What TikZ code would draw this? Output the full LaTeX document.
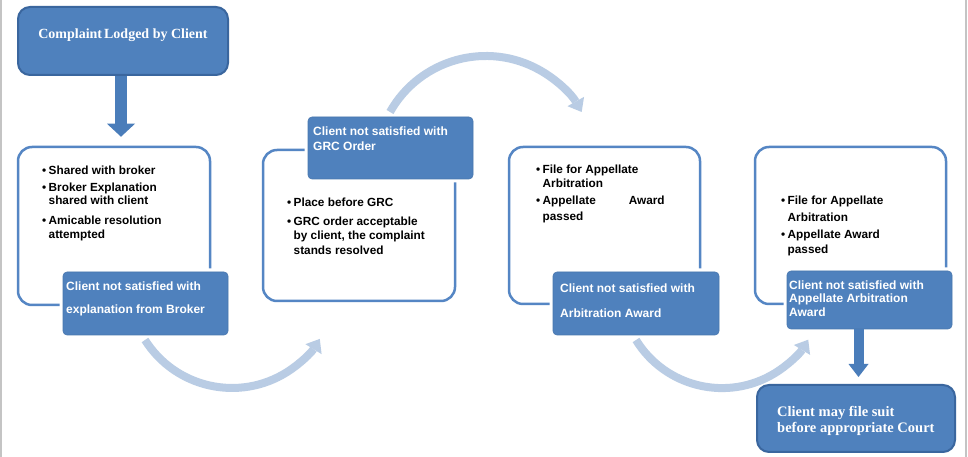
\documentclass[tikz,border=0pt]{standalone}
\usepackage{fontspec}
\setmainfont{Liberation Serif}
\setsansfont{Liberation Sans}
\usetikzlibrary{arrows.meta}
\definecolor{fillblue}{HTML}{4F81BD}
\definecolor{darkblue}{HTML}{3A669E}
\definecolor{wblue}{HTML}{5586C4}
\definecolor{arcblue}{HTML}{B9CCE4}
\definecolor{arrblue}{HTML}{4A7DBA}
\definecolor{edgegray}{HTML}{C4C4C4}
\newcommand\mybul{\makebox[6.5pt][l]{\textbullet}}
\newcommand\myind{\hspace*{6.5pt}}
\begin{document}
\begin{tikzpicture}[x=1pt,y=1pt,
  wbox/.style={draw=wblue, line width=2.5pt, rounded corners=14pt, fill=white, inner sep=0pt},
  bbox/.style={fill=fillblue, draw=fillblue!92!black, line width=0.6pt, rounded corners=4pt, inner sep=0pt, preaction={draw=white, line width=7pt}},
  hbox/.style={fill=fillblue, draw=darkblue, line width=2pt, rounded corners=12pt, inner sep=0pt},
  btxt/.style={font=\sffamily\bfseries\fontsize{12}{14}\selectfont, text=white, align=left, inner sep=0pt, anchor=north west},
  ltxt/.style={font=\sffamily\bfseries\fontsize{11.8}{13.5}\selectfont, text=black, align=left, inner sep=0pt, anchor=north west},
  htxt/.style={font=\rmfamily\bfseries\fontsize{14}{16}\selectfont, text=white, inner sep=0pt},
  arcarr/.style={draw=arcblue, line width=8pt, -{Triangle[width=19pt,length=12pt,line width=0pt]}},
  downarr/.style={draw=arrblue, -{Triangle[width=#1,length=13pt,line width=0pt]}}]
\useasboundingbox (0,0) rectangle (968,457);
\fill[white] (0,0) rectangle (968,457);
\draw[edgegray, line width=2pt] (1,0) -- (1,457);
\draw[edgegray, line width=2pt] (966,0) -- (966,457);

% top box
\node[hbox, minimum width=210pt, minimum height=68pt] (top) at (123,457-41) {};
\node[htxt, anchor=base] (toptxt) at (123,457-39) {Complaint\hspace{2pt}Lodged by Client};

% white boxes
\node[wbox, minimum width=192pt, minimum height=158pt] (box1) at (114,457-226) {};
\node[wbox, minimum width=192pt, minimum height=151pt] (box2) at (359,457-225.5) {};
\node[wbox, minimum width=191pt, minimum height=157pt] (box3) at (604.5,457-225.5) {};
\node[wbox, minimum width=191pt, minimum height=157pt] (box4) at (850.5,457-225.5) {};

% blue boxes
\node[bbox, minimum width=165pt, minimum height=63pt] (cl1) at (145.5,457-303.5) {};
\node[bbox, minimum width=165pt, minimum height=62pt] (cl2) at (390.5,457-148) {};
\node[bbox, minimum width=166pt, minimum height=63pt] (cl3) at (636,457-303.5) {};
\node[bbox, minimum width=165pt, minimum height=58pt] (cl4) at (869.5,457-300) {};

% final box
\node[hbox, minimum width=198pt, minimum height=67pt] (fin) at (856,457-418.5) {};
\node[htxt, font=\rmfamily\bfseries\fontsize{14.5}{16}\selectfont, align=left, anchor=north west] (fintxt) at (777,457-406) {Client may file suit\\before appropriate Court};

% bullet texts
\node[ltxt] (t1) at (42,457-165.4) {\mybul Shared with broker\\[3.5pt]
\mybul Broker Explanation\\
\myind shared with client\\[6.5pt]
\mybul Amicable resolution\\
\myind attempted};
\node[ltxt, font=\sffamily\bfseries\fontsize{11.8}{14.5}\selectfont] (t2) at (287,457-197.4) {\mybul Place before GRC\\[4.5pt]
\mybul GRC order acceptable\\
\myind by client, the complaint\\
\myind stands resolved};
\node[ltxt, font=\sffamily\bfseries\fontsize{11.8}{15}\selectfont] (t3) at (536,457-164.4) {\mybul File for Appellate\\[-1pt]
\myind Arbitration\\[2pt]
\mybul Appellate\hspace{33pt}Award\\[1pt]
\myind passed};
\node[ltxt, font=\sffamily\bfseries\fontsize{11.8}{17}\selectfont] (t4) at (781,457-195.4) {\mybul File for Appellate\\
\myind Arbitration\\
\mybul Appellate Award\\[-2pt]
\myind passed};

% blue box texts
\node[btxt] (c1) at (66,457-281.3) {Client not satisfied with\\[9pt]explanation from Broker};
\node[btxt, font=\sffamily\bfseries\fontsize{12}{15}\selectfont] (c2) at (313,457-126.3) {Client not satisfied with\\GRC Order};
\node[btxt] (c3) at (560,457-283.3) {Client not satisfied with\\[11pt]Arbitration Award};
\node[btxt, font=\sffamily\bfseries\fontsize{12}{13.5}\selectfont] (c4) at (789,457-280.3) {Client not satisfied with\\Appellate Arbitration\\Award};

% down arrows
\draw[downarr=28pt, line width=12pt, shorten >=9pt] ([xshift=-2pt]top.south) -- ([xshift=-2pt]top.south |- box1.north);
\draw[downarr=20pt, line width=10pt, shorten >=7pt] ([xshift=-11pt]cl4.south) -- ([xshift=-11pt]cl4.south |- fin.north);

% curved arrows
\coordinate (a1) at (145,457-340);
\coordinate (a2) at (390,457-112);
\coordinate (a3) at (636,457-340);
\draw[arcarr] (a1) arc[start angle=212.3, end angle=328.4, radius=103];
\draw[arcarr] (a2) arc[start angle=150.6, end angle=29.4, radius=110];
\draw[arcarr] (a3) arc[start angle=211.6, end angle=328.6, radius=101];
\end{tikzpicture}
\end{document}
